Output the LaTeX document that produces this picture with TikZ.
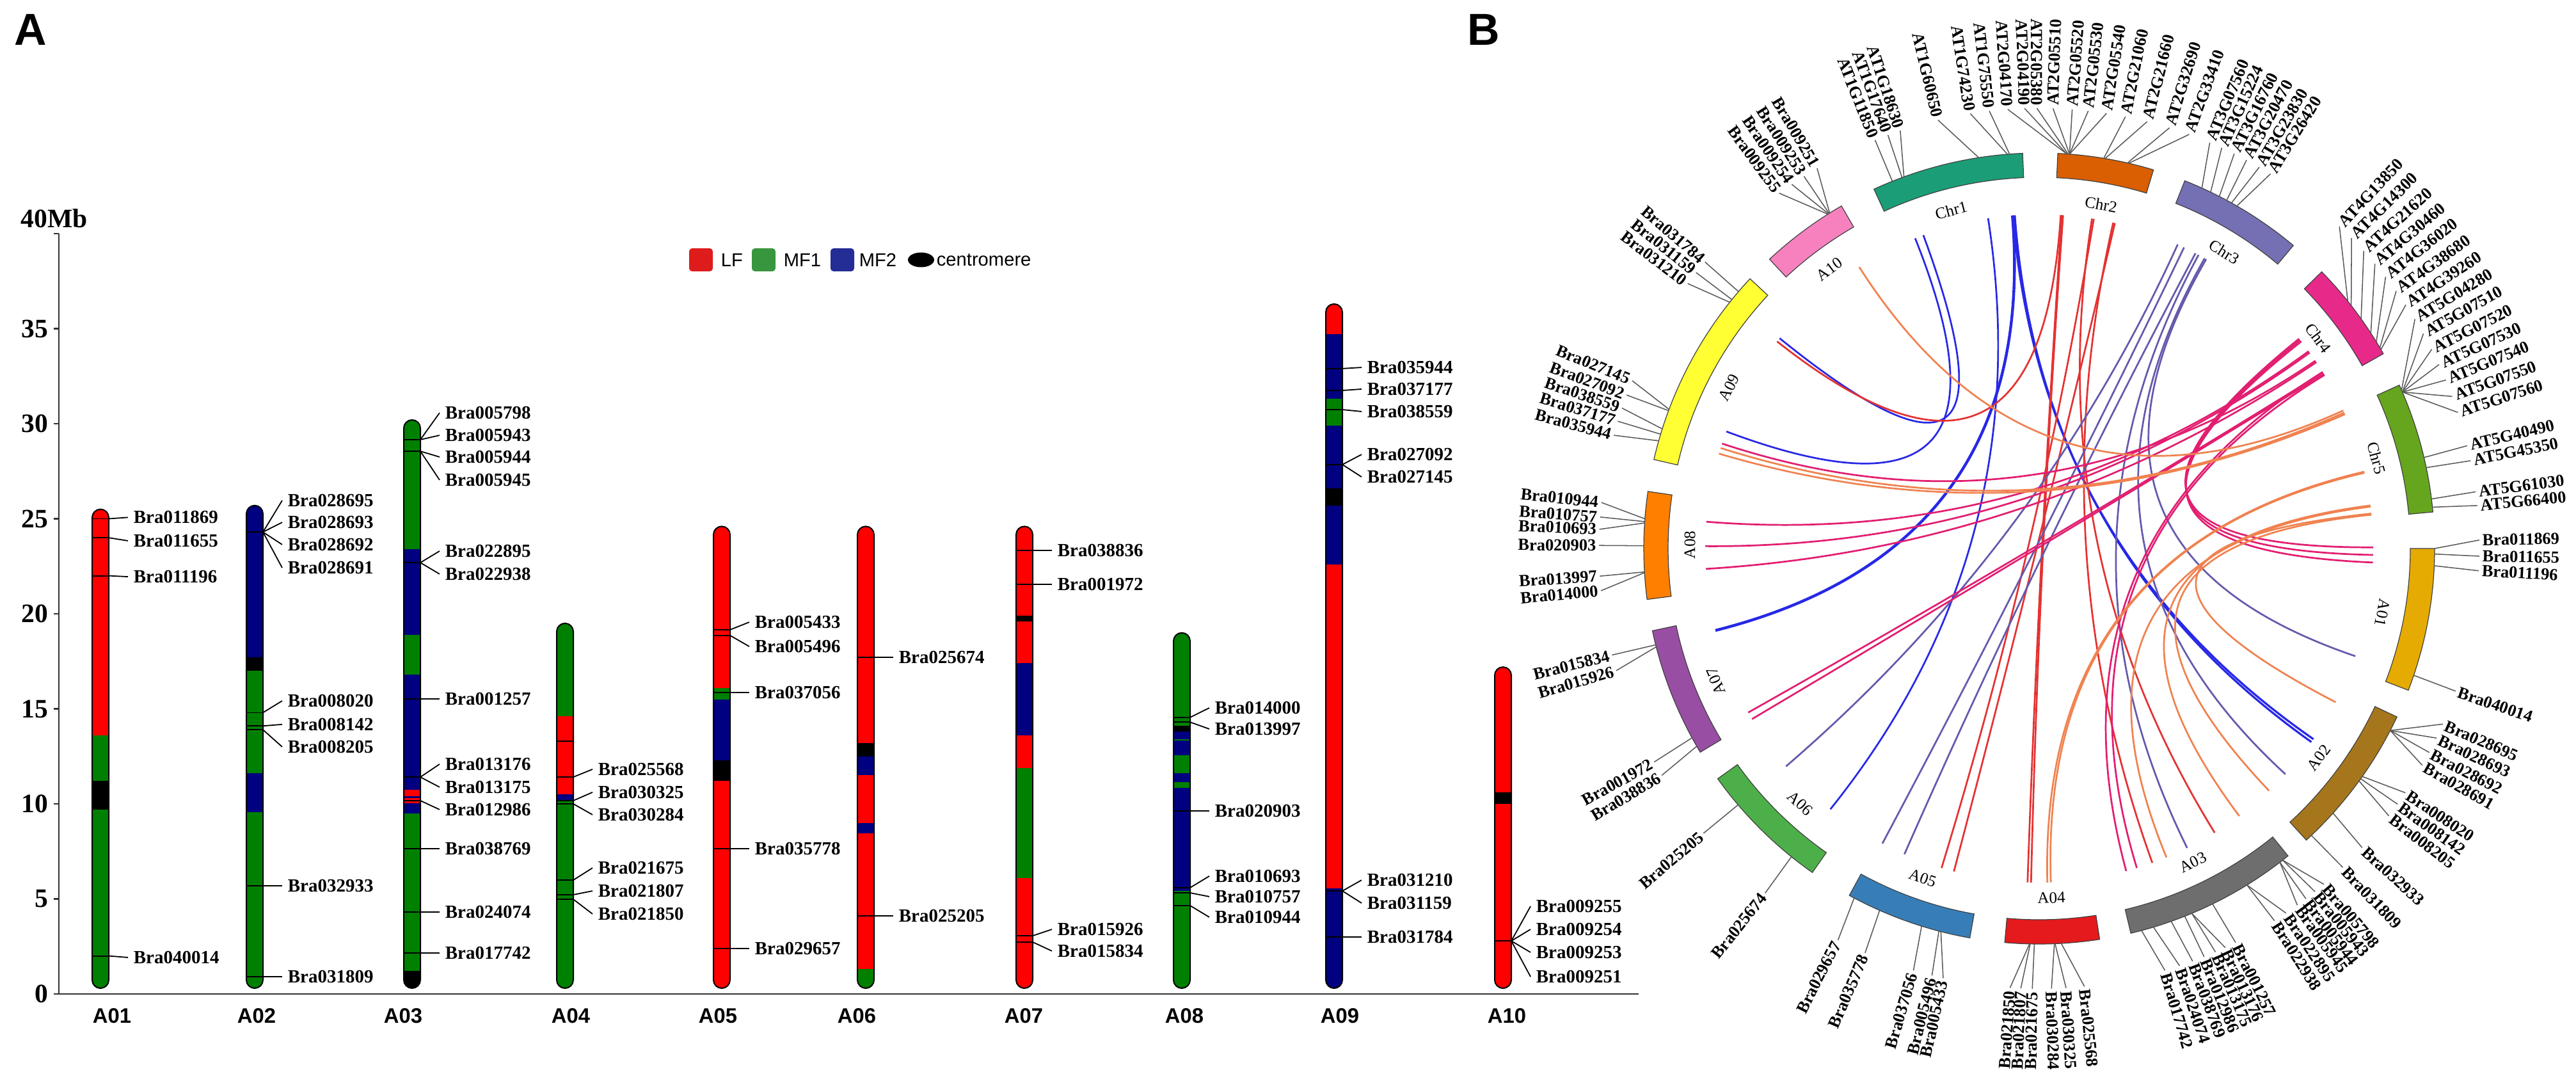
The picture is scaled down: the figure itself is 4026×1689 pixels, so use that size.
\documentclass[tikz,border=0pt]{standalone}
\usepackage{fontspec}
\setmainfont{Liberation Serif}
\newfontfamily\sansf{Liberation Sans}
\usetikzlibrary{shapes.geometric}
\definecolor{cR}{RGB}{255,0,0}
\definecolor{cG}{RGB}{0,128,0}
\definecolor{cB}{RGB}{0,0,128}
\definecolor{cK}{RGB}{0,0,0}
\definecolor{legR}{RGB}{222,28,28}
\definecolor{legG}{RGB}{56,150,62}
\definecolor{legB}{RGB}{36,44,150}
\definecolor{sA01}{RGB}{230,171,2}
\definecolor{sA02}{RGB}{166,118,29}
\definecolor{sA03}{RGB}{110,110,110}
\definecolor{sA04}{RGB}{228,26,28}
\definecolor{sA05}{RGB}{55,126,184}
\definecolor{sA06}{RGB}{77,175,74}
\definecolor{sA07}{RGB}{152,78,163}
\definecolor{sA08}{RGB}{255,127,0}
\definecolor{sA09}{RGB}{255,255,51}
\definecolor{sA10}{RGB}{247,129,191}
\definecolor{sC1}{RGB}{27,158,119}
\definecolor{sC2}{RGB}{217,95,2}
\definecolor{sC3}{RGB}{117,112,179}
\definecolor{sC4}{RGB}{231,41,138}
\definecolor{sC5}{RGB}{102,166,30}
\definecolor{lkB}{RGB}{40,40,230}
\definecolor{lkR}{RGB}{228,50,50}
\definecolor{lkP}{RGB}{100,90,172}
\definecolor{lkM}{RGB}{226,30,112}
\definecolor{lkO}{RGB}{240,130,80}
\newcommand\seg[3]{\fill[#1] (-13,#2) rectangle (13,#3);}
\newcommand\chrclip[1]{\clip[rounded corners=3.25pt] (-13,0.3) rectangle (13,#1);}
\newcommand\chrframe[1]{\draw[chrout,rounded corners=3.25pt] (-13,0.3) rectangle (13,#1);}
\newcommand\gl[4]{\draw[mk] (-13,#2) -- (13,#2);
  \node[glab] (#1) at (51,#3) {#4};
  \draw[lead] (13,#2) -- ([xshift=-2pt]#1.west);}
\newcommand\sector[4]{\draw[ringout,fill=#4] (#2:580) arc[start angle=#2,end angle=#3,radius=580] -- (#3:618) arc[start angle=#3,end angle=#2,radius=618] -- cycle;
  \coordinate (#1) at ({(#2+#3)/2}:599);}
\newcommand\lnk[3]{\draw[lk,#3] (#1:522) .. controls (#1:174) and (#2:174) .. (#2:522);}
\newcommand\glabel[4]{%
  \pgfmathtruncatemacro\isleft{((#3)>90)&&((#3)<270)}%
  \ifnum\isleft=1
    \node[blab,anchor=east,rotate=#3-180] (#1) at (#3:688) {#4};
    \draw[blead] (#2:618) -- (#1.east);
  \else
    \node[blab,anchor=west,rotate=#3] (#1) at (#3:688) {#4};
    \draw[blead] (#2:618) -- (#1.west);
  \fi}
\begin{document}
\begin{tikzpicture}[x=0.25pt,y=-0.25pt,
  glab/.style={anchor=west,inner sep=0pt,font=\fontsize{7.25}{8}\selectfont\bfseries},
  mk/.style={line width=0.45pt,black},
  lead/.style={line width=0.45pt,black},
  chrout/.style={line width=0.5pt,black},
  axis/.style={line width=0.7pt,black!80},
  ticklab/.style={anchor=east,inner sep=0pt,font=\fontsize{10.4}{12}\selectfont\bfseries},
  cname/.style={inner sep=0pt,font=\sansf\bfseries\fontsize{8.2}{10}\selectfont},
  leg/.style={anchor=west,inner sep=0pt,font=\sansf\fontsize{7.3}{9}\selectfont},
  legsq/.style={rounded corners=1.2pt,minimum width=9.25pt,minimum height=9pt,inner sep=0pt},
  blab/.style={inner sep=1pt,font=\fontsize{6.6}{8}\selectfont\bfseries},
  blead/.style={line width=0.38pt,black!65},
  rlab/.style={inner sep=0pt,font=\fontsize{6.3}{7}\selectfont},
  ringout/.style={line width=0.3pt,black!75},
  lk/.style={line width=0.68pt},
  panel/.style={anchor=north west,inner sep=0pt,font=\sansf\bfseries\fontsize{17.5}{20}\selectfont}]
\useasboundingbox[fill=white] (0,0) rectangle (4026,1689);
\node[panel] (pA) at (22,22) {A};
\node[panel] (pB) at (2293,22) {B};
% ---------- axes ----------
\draw[axis] (92,365) -- (92,1553) -- (2561,1553);
\foreach \v in {0,5,...,35} {
  \draw[axis] (84,{1553-29.7*\v}) -- (92,{1553-29.7*\v});
  \node[ticklab] (tk\v) at (76,{1553-29.7*\v}) {\v};}
\draw[axis] (84,365) -- (92,365);
\node[anchor=west,inner sep=0pt,font=\fontsize{10.4}{12}\selectfont\bfseries] (t40) at (32,341) {40Mb};
% chromosome names
\node[cname] (nA01) at (175,1587) {A01};
\node[cname] (nA02) at (401,1587) {A02};
\node[cname] (nA03) at (630,1587) {A03};
\node[cname] (nA04) at (892,1587) {A04};
\node[cname] (nA05) at (1122,1587) {A05};
\node[cname] (nA06) at (1339,1587) {A06};
\node[cname] (nA07) at (1600,1587) {A07};
\node[cname] (nA08) at (1851,1587) {A08};
\node[cname] (nA09) at (2094,1587) {A09};
\node[cname] (nA10) at (2355,1587) {A10};
% legend
\node[legsq,fill=legR] (kLF) at (1095.5,406) {};
\node[leg] (tLF) at (1126,406) {LF};
\node[legsq,fill=legG] (kMF1) at (1193.5,406) {};
\node[leg] (tMF1) at (1224,406) {MF1};
\node[legsq,fill=legB] (kMF2) at (1316.5,406) {};
\node[leg] (tMF2) at (1342,406) {MF2};
\node[ellipse,fill=black,minimum width=10.25pt,minimum height=5.75pt,inner sep=0pt] (kCen) at (1439.5,406) {};
\node[leg] (tCen) at (1463,406) {centromere};
% ---------- A01 ----------
\begin{scope}[shift={(157,1553)},y=7.425pt]
\begin{scope}\chrclip{25.5}
\seg{cG}{0.3}{9.7}\seg{cK}{9.7}{11.2}\seg{cG}{11.2}{13.6}\seg{cR}{13.6}{25.5}
\end{scope}
\chrframe{25.5}
\gl{a011869}{25.0}{25.07}{Bra011869}
\gl{a011655}{24.0}{23.84}{Bra011655}
\gl{a011196}{22.0}{21.95}{Bra011196}
\gl{a040014}{2.0}{1.92}{Bra040014}
\end{scope}
% ---------- A02 ----------
\begin{scope}[shift={(398,1553)},y=7.425pt]
\begin{scope}\chrclip{25.7}
\seg{cG}{0.3}{9.55}\seg{cB}{9.55}{11.6}\seg{cG}{11.6}{17.0}\seg{cK}{17.0}{17.7}\seg{cB}{17.7}{25.7}
\end{scope}
\chrframe{25.7}
\gl{a028695}{24.3}{25.96}{Bra028695}
\gl{a028693}{24.3}{24.81}{Bra028693}
\gl{a028692}{24.3}{23.64}{Bra028692}
\gl{a028691}{24.3}{22.42}{Bra028691}
\gl{a008020}{14.8}{15.42}{Bra008020}
\gl{a008142}{14.1}{14.18}{Bra008142}
\gl{a008205}{13.9}{13.0}{Bra008205}
\gl{a032933}{5.69}{5.69}{Bra032933}
\gl{a031809}{0.91}{0.91}{Bra031809}
\end{scope}
% ---------- A03 ----------
\begin{scope}[shift={(644,1553)},y=7.425pt]
\begin{scope}\chrclip{30.2}
\seg{cK}{0.3}{1.21}\seg{cG}{1.21}{9.5}\seg{cB}{9.5}{10.05}\seg{cR}{10.05}{10.3}\seg{cB}{10.3}{10.4}\seg{cR}{10.4}{10.75}\seg{cB}{10.75}{16.8}\seg{cG}{16.8}{18.9}\seg{cB}{18.9}{23.4}\seg{cG}{23.4}{30.2}
\end{scope}
\chrframe{30.2}
\gl{a005798}{29.16}{30.57}{Bra005798}
\gl{a005943}{29.16}{29.39}{Bra005943}
\gl{a005944}{28.55}{28.25}{Bra005944}
\gl{a005945}{28.55}{27.04}{Bra005945}
\gl{a022895}{22.69}{23.3}{Bra022895}
\gl{a022938}{22.69}{22.09}{Bra022938}
\gl{a001257}{15.52}{15.52}{Bra001257}
\gl{a013176}{11.41}{12.09}{Bra013176}
\gl{a013175}{11.41}{10.88}{Bra013175}
\gl{a012986}{10.17}{9.70}{Bra012986}
\gl{a038769}{7.64}{7.64}{Bra038769}
\gl{a024074}{4.31}{4.31}{Bra024074}
\gl{a017742}{2.15}{2.15}{Bra017742}
\end{scope}
% ---------- A04 ----------
\begin{scope}[shift={(883,1553)},y=7.425pt]
\begin{scope}\chrclip{19.5}
\seg{cG}{0.3}{10.2}\seg{cB}{10.2}{10.5}\seg{cR}{10.5}{14.6}\seg{cG}{14.6}{19.5}
\end{scope}
\chrframe{19.5}
\draw[mk] (-13,13.3) -- (13,13.3);
\gl{a025568}{11.41}{11.82}{Bra025568}
\gl{a030325}{10.17}{10.61}{Bra030325}
\gl{a030284}{10.0}{9.43}{Bra030284}
\gl{a021675}{5.99}{6.63}{Bra021675}
\gl{a021807}{5.22}{5.42}{Bra021807}
\gl{a021850}{4.98}{4.21}{Bra021850}
\end{scope}
% ---------- A05 ----------
\begin{scope}[shift={(1128,1553)},y=7.425pt]
\begin{scope}\chrclip{24.6}
\seg{cR}{0.3}{11.2}\seg{cK}{11.2}{12.3}\seg{cB}{12.3}{15.5}\seg{cG}{15.5}{16.1}\seg{cR}{16.1}{24.6}
\end{scope}
\chrframe{24.6}
\gl{a005433}{19.16}{19.56}{Bra005433}
\gl{a005496}{18.86}{18.28}{Bra005496}
\gl{a037056}{15.86}{15.86}{Bra037056}
\gl{a035778}{7.64}{7.64}{Bra035778}
\gl{a029657}{2.39}{2.39}{Bra029657}
\end{scope}
% ---------- A06 ----------
\begin{scope}[shift={(1353,1553)},y=7.425pt]
\begin{scope}\chrclip{24.6}
\seg{cG}{0.3}{1.3}\seg{cR}{1.3}{8.45}\seg{cB}{8.45}{9.0}\seg{cR}{9.0}{11.5}\seg{cB}{11.5}{12.5}\seg{cK}{12.5}{13.2}\seg{cR}{13.2}{24.6}
\end{scope}
\chrframe{24.6}
\gl{a025674}{17.71}{17.71}{Bra025674}
\gl{a025205}{4.11}{4.11}{Bra025205}
\end{scope}
% ---------- A07 ----------
\begin{scope}[shift={(1601,1553)},y=7.425pt]
\begin{scope}\chrclip{24.6}
\seg{cR}{0.3}{6.1}\seg{cG}{6.1}{11.9}\seg{cR}{11.9}{13.6}\seg{cB}{13.6}{17.4}\seg{cR}{17.4}{19.6}\seg{cK}{19.6}{19.9}\seg{cR}{19.9}{24.6}
\end{scope}
\chrframe{24.6}
\gl{a038836}{23.33}{23.33}{Bra038836}
\gl{a001972}{21.55}{21.55}{Bra001972}
\gl{a015926}{3.06}{3.40}{Bra015926}
\gl{a015834}{2.73}{2.26}{Bra015834}
\end{scope}
% ---------- A08 ----------
\begin{scope}[shift={(1847,1553)},y=7.425pt]
\begin{scope}\chrclip{19.0}
\seg{cG}{0.3}{5.42}\seg{cB}{5.42}{10.84}\seg{cG}{10.84}{11.14}\seg{cB}{11.14}{11.6}\seg{cG}{11.6}{12.56}\seg{cB}{12.56}{13.8}\seg{cK}{13.8}{14.1}\seg{cG}{14.1}{19.0}
\draw[cG,line width=0.7pt] (-13,13.37) -- (13,13.37);
\end{scope}
\chrframe{19.0}
\gl{a014000}{14.55}{15.05}{Bra014000}
\gl{a013997}{14.3}{13.94}{Bra013997}
\gl{a020903}{9.63}{9.63}{Bra020903}
\gl{a010693}{5.59}{6.20}{Bra010693}
\gl{a010757}{5.32}{5.12}{Bra010757}
\gl{a010944}{4.65}{4.04}{Bra010944}
\end{scope}
% ---------- A09 ----------
\begin{scope}[shift={(2085,1553)},y=7.425pt]
\begin{scope}\chrclip{36.3}
\seg{cB}{0.3}{5.55}\seg{cR}{5.55}{22.6}\seg{cB}{22.6}{25.7}\seg{cK}{25.7}{26.6}\seg{cB}{26.6}{29.9}\seg{cG}{29.9}{31.3}\seg{cB}{31.3}{34.7}\seg{cR}{34.7}{36.3}
\end{scope}
\chrframe{36.3}
\gl{a035944}{32.9}{32.96}{Bra035944}
\gl{a037177}{31.75}{31.82}{Bra037177}
\gl{a038559}{30.74}{30.64}{Bra038559}
\gl{a027092}{27.85}{28.38}{Bra027092}
\gl{a027145}{27.85}{27.2}{Bra027145}
\gl{a031210}{5.42}{5.99}{Bra031210}
\gl{a031159}{5.42}{4.78}{Bra031159}
\gl{a031784}{3.0}{3.0}{Bra031784}
\end{scope}
% ---------- A10 ----------
\begin{scope}[shift={(2349,1553)},y=7.425pt]
\begin{scope}\chrclip{17.2}
\seg{cR}{0.3}{10.0}\seg{cK}{10.0}{10.6}\seg{cR}{10.6}{17.2}
\end{scope}
\chrframe{17.2}
\gl{a009255}{2.79}{4.61}{Bra009255}
\gl{a009254}{2.79}{3.40}{Bra009254}
\gl{a009253}{2.79}{2.19}{Bra009253}
\gl{a009251}{2.79}{0.91}{Bra009251}
\end{scope}
% =================== PANEL B ===================
\begin{scope}[shift={(3187,857)},y=0.25pt]
% links
\lnk{111.8}{159.5}{lkB}
\lnk{110.3}{141.0}{lkB}
\lnk{98.8}{231.3}{lkB}
\lnk{94.6}{194.2}{lkB,line width=1.1pt}
\lnk{94.2}{324.6}{lkB,line width=0.8pt}
\lnk{94.5}{325.2}{lkB,line width=0.8pt}
\lnk{86.3}{141.7}{lkR}
\lnk{86.1}{268.0}{lkR}
\lnk{85.9}{268.6}{lkR}
\lnk{80.9}{301.7}{lkR}
\lnk{80.6}{253.0}{lkR}
\lnk{77.2}{289.8}{lkR}
\lnk{76.9}{255.2}{lkR}
\lnk{65.5}{220.7}{lkP}
\lnk{64.3}{242.0}{lkP}
\lnk{62.1}{246.2}{lkP}
\lnk{61.5}{296.3}{lkP}
\lnk{60.3}{317.5}{lkP}
\lnk{60.0}{341.2}{lkP}
\lnk{38.9}{0.2}{lkM}
\lnk{38.6}{-1.1}{lkM}
\lnk{38.3}{-2.4}{lkM}
\lnk{36.2}{175.4}{lkM}
\lnk{35.9}{179.6}{lkM}
\lnk{33.9}{183.5}{lkM}
\lnk{31.8}{209.4}{lkM}
\lnk{31.5}{210.7}{lkM}
\lnk{34.2}{161.7}{lkM}
\lnk{31.9}{285.1}{lkM}
\lnk{31.3}{287.0}{lkM}
\lnk{24.4}{122.6}{lkO}
\lnk{24.0}{162.5}{lkO}
\lnk{23.7}{163.5}{lkO}
\lnk{13.3}{271.4}{lkO}
\lnk{13.1}{272.0}{lkO}
\lnk{7.4}{306.8}{lkO}
\lnk{7.2}{292.4}{lkO}
\lnk{6.0}{332.6}{lkO}
\lnk{5.8}{313.5}{lkO}
% ring
\sector{rA01}{-21}{0}{sA01}
\sector{rC5}{5.3}{24.4}{sC5}
\sector{rC4}{29.5}{44.4}{sC4}
\sector{rC3}{50}{68.4}{sC3}
\sector{rC2}{73.2}{87.3}{sC2}
\sector{rC1}{92.4}{114.7}{sC1}
\sector{rA10}{120}{133}{sA10}
\sector{rA09}{137}{167}{sA09}
\sector{rA08}{171.7}{187.4}{sA08}
\sector{rA07}{192}{211}{sA07}
\sector{rA06}{215.6}{235}{sA06}
\sector{rA05}{241.3}{259.9}{sA05}
\sector{rA04}{265}{278.8}{sA04}
\sector{rA03}{283.4}{309}{sA03}
\sector{rA02}{312.5}{334.8}{sA02}
% ring labels
\node[rlab,rotate=14.6] (tChr1) at (104.6:546) {Chr1};
\node[rlab,rotate=-10.2] (tChr2) at (79.8:546) {Chr2};
\node[rlab,rotate=-32] (tChr3) at (58:546) {Chr3};
\node[rlab,rotate=-53] (tChr4) at (37:546) {Chr4};
\node[rlab,rotate=-75] (tChr5) at (15:546) {Chr5};
\node[rlab,rotate=-100.6] (tA01) at (-10.6:546) {A01};
\node[rlab,rotate=53.2] (tA02) at (-36.8:546) {A02};
\node[rlab,rotate=26.1] (tA03) at (-63.9:546) {A03};
\node[rlab,rotate=2] (tA04) at (-88:546) {A04};
\node[rlab,rotate=-19.5] (tA05) at (-109.5:546) {A05};
\node[rlab,rotate=-43.2] (tA06) at (-133.2:546) {A06};
\node[rlab,rotate=112.3] (tA07) at (202.3:546) {A07};
\node[rlab,rotate=89.4] (tA08) at (179.4:546) {A08};
\node[rlab,rotate=62.6] (tA09) at (152.6:546) {A09};
\node[rlab,rotate=36.9] (tA10) at (126.9:546) {A10};
% gene labels
\glabel{b011869}{0.0}{1.1}{Bra011869}
\glabel{b011655}{-0.8}{-1.0}{Bra011655}
\glabel{b011196}{-2.5}{-2.9}{Bra011196}
\glabel{b040014}{-18.7}{-18.9}{Bra040014}
\glabel{b028695}{-27.4}{-23.5}{Bra028695}
\glabel{b028693}{-27.4}{-25.5}{Bra028693}
\glabel{b028692}{-27.4}{-27.6}{Bra028692}
\glabel{b028691}{-27.4}{-29.5}{Bra028691}
\glabel{b008020}{-35.2}{-33.7}{Bra008020}
\glabel{b008142}{-35.6}{-35.5}{Bra008142}
\glabel{b008205}{-36.0}{-37.4}{Bra008205}
\glabel{b032933}{-42.0}{-42.8}{Bra032933}
\glabel{b031809}{-46.5}{-46.4}{Bra031809}
\glabel{b005798}{-52.0}{-49.7}{Bra005798}
\glabel{b005943}{-52.0}{-51.2}{Bra005943}
\glabel{b005944}{-52.5}{-52.7}{Bra005944}
\glabel{b005945}{-52.5}{-54.1}{Bra005945}
\glabel{b022895}{-58.3}{-55.9}{Bra022895}
\glabel{b022938}{-58.3}{-57.7}{Bra022938}
\glabel{b001257}{-64.0}{-63.5}{Bra001257}
\glabel{b013176}{-67.3}{-65.0}{Bra013176}
\glabel{b013175}{-67.3}{-66.4}{Bra013175}
\glabel{b012986}{-68.4}{-68.0}{Bra012986}
\glabel{b038769}{-70.5}{-69.6}{Bra038769}
\glabel{b024074}{-73.2}{-71.4}{Bra024074}
\glabel{b017742}{-75.0}{-73.4}{Bra017742}
\glabel{b021850}{268.6}{266.2}{Bra021850}
\glabel{b021807}{268.7}{267.6}{Bra021807}
\glabel{b021675}{269.3}{269.1}{Bra021675}
\glabel{b030284}{272.2}{271.6}{Bra030284}
\glabel{b030325}{272.3}{273.5}{Bra030325}
\glabel{b025568}{273.2}{275.9}{Bra025568}
\glabel{b029657}{242.1}{242.8}{Bra029657}
\glabel{b035778}{246.2}{246.7}{Bra035778}
\glabel{b037056}{252.7}{253.4}{Bra037056}
\glabel{b005496}{255.3}{255.9}{Bra005496}
\glabel{b005433}{255.6}{257.4}{Bra005433}
\glabel{b025205}{220.4}{220.3}{Bra025205}
\glabel{b025674}{231.2}{231.5}{Bra025674}
\glabel{b015834}{194.1}{194.0}{Bra015834}
\glabel{b015926}{194.4}{196.1}{Bra015926}
\glabel{b001972}{208.6}{209.0}{Bra001972}
\glabel{b038836}{210.0}{211.0}{Bra038836}
\glabel{b010944}{175.7}{174.0}{Bra010944}
\glabel{b010757}{176.1}{175.9}{Bra010757}
\glabel{b010693}{176.3}{177.5}{Bra010693}
\glabel{b020903}{179.6}{179.6}{Bra020903}
\glabel{b013997}{183.4}{183.6}{Bra013997}
\glabel{b014000}{183.5}{185.5}{Bra014000}
\glabel{b027145}{159.4}{157.6}{Bra027145}
\glabel{b027092}{159.6}{159.6}{Bra027092}
\glabel{b038559}{162.4}{161.4}{Bra038559}
\glabel{b037177}{163.2}{163.2}{Bra037177}
\glabel{b035944}{164.2}{165.1}{Bra035944}
\glabel{b031784}{139.5}{139.4}{Bra031784}
\glabel{b031159}{141.0}{141.2}{Bra031159}
\glabel{b031210}{141.5}{143.0}{Bra031210}
\glabel{b009251}{122.0}{120.3}{Bra009251}
\glabel{b009253}{122.1}{122.3}{Bra009253}
\glabel{b009254}{122.2}{124.2}{Bra009254}
\glabel{b009255}{122.3}{126.2}{Bra009255}
\glabel{AT1G11850}{111.8}{111.9}{AT1G11850}
\glabel{AT1G17640}{110.3}{110.1}{AT1G17640}
\glabel{AT1G18630}{110.0}{108.4}{AT1G18630}
\glabel{AT1G60650}{98.8}{103.3}{AT1G60650}
\glabel{AT1G74230}{94.6}{99.0}{AT1G74230}
\glabel{AT1G75550}{94.3}{96.5}{AT1G75550}
\glabel{AT2G04170}{86.0}{94.1}{AT2G04170}
\glabel{AT2G04190}{86.0}{91.9}{AT2G04190}
\glabel{AT2G05380}{85.8}{90.3}{AT2G05380}
\glabel{AT2G05510}{85.6}{88.2}{AT2G05510}
\glabel{AT2G05520}{85.6}{85.7}{AT2G05520}
\glabel{AT2G05530}{85.6}{83.6}{AT2G05530}
\glabel{AT2G05540}{85.6}{81.2}{AT2G05540}
\glabel{AT2G21060}{80.6}{78.7}{AT2G21060}
\glabel{AT2G21660}{80.4}{75.8}{AT2G21660}
\glabel{AT2G32690}{77.1}{72.8}{AT2G32690}
\glabel{AT2G33410}{76.9}{70.1}{AT2G33410}
\glabel{AT3G07560}{65.7}{67.2}{AT3G07560}
\glabel{AT3G15224}{64.3}{65.5}{AT3G15224}
\glabel{AT3G16760}{62.9}{63.7}{AT3G16760}
\glabel{AT3G20470}{61.7}{61.9}{AT3G20470}
\glabel{AT3G23830}{60.9}{60.0}{AT3G23830}
\glabel{AT3G26420}{60.0}{58.3}{AT3G26420}
\glabel{AT4G13850}{38.7}{47.0}{AT4G13850}
\glabel{AT4G14300}{37.9}{44.8}{AT4G14300}
\glabel{AT4G21620}{35.5}{42.5}{AT4G21620}
\glabel{AT4G30460}{33.0}{40.3}{AT4G30460}
\glabel{AT4G36020}{31.5}{38.1}{AT4G36020}
\glabel{AT4G38680}{30.5}{35.8}{AT4G38680}
\glabel{AT4G39260}{30.2}{33.6}{AT4G39260}
\glabel{AT5G04280}{23.6}{31.4}{AT5G04280}
\glabel{AT5G07510}{23.3}{29.2}{AT5G07510}
\glabel{AT5G07520}{23.3}{26.9}{AT5G07520}
\glabel{AT5G07530}{23.3}{24.7}{AT5G07530}
\glabel{AT5G07540}{23.3}{22.5}{AT5G07540}
\glabel{AT5G07550}{23.3}{20.2}{AT5G07550}
\glabel{AT5G07560}{23.3}{18.0}{AT5G07560}
\glabel{AT5G40490}{13.3}{13.5}{AT5G40490}
\glabel{AT5G45350}{11.8}{11.5}{AT5G45350}
\glabel{AT5G61030}{7.2}{7.4}{AT5G61030}
\glabel{AT5G66400}{6.0}{5.6}{AT5G66400}
\end{scope}
\end{tikzpicture}
\end{document}
